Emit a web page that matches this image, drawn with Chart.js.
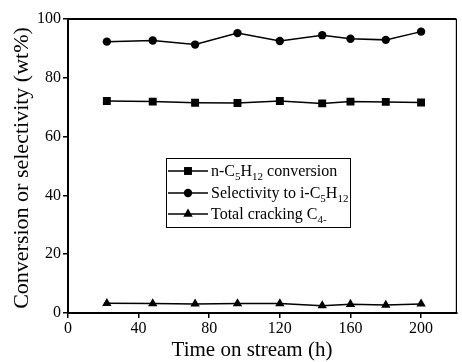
<!DOCTYPE html>
<html>
<head>
<meta charset="utf-8">
<script src="https://cdn.jsdelivr.net/npm/chart.js@4.4.1/dist/chart.umd.min.js"></script>
<style>
  html, body { margin: 0; padding: 0; background: #fff; }
  #wrap { width: 462px; height: 362px; }
</style>
</head>
<body>
<div id="wrap"><canvas id="chart-line" width="462" height="362"></canvas></div>
<script>
// data
var hours = [22, 48, 72, 96, 120, 144, 160, 180, 200];
var conversion = [72.1, 71.9, 71.5, 71.4, 72.1, 71.3, 71.9, 71.8, 71.6];
var selectivity = [92.3, 92.7, 91.3, 95.2, 92.5, 94.5, 93.3, 92.9, 95.7];
var cracking = [3.3, 3.2, 3.1, 3.2, 3.2, 2.5, 3.0, 2.7, 3.1];
var xTicks = [0, 40, 80, 120, 160, 200];
var yTicks = [0, 20, 40, 60, 80, 100];
var xTitle = "Time on stream (h)";
var yTitle = "Conversion or selectivity (wt%)";

var serif = "'Liberation Serif', 'Times New Roman', serif";

function pts(ys) {
  var out = [];
  for (var i = 0; i < hours.length; i++) out.push({ x: hours[i], y: ys[i] });
  return out;
}

function series(label, ys, style, r) {
  return {
    label: label,
    data: pts(ys),
    showLine: true,
    borderColor: "#000",
    backgroundColor: "#000",
    borderWidth: 1.5,
    pointStyle: style,
    pointRadius: r,
    pointBorderWidth: 0,
    pointBackgroundColor: "#000",
  };
}

// legend with sub-scripts, drawn by hand inside the plot
var legendRows = [
  { style: "rect", r: 5.6, parts: [["n-C", 0], ["5", 1], ["H", 0], ["12", 1], [" conversion", 0]] },
  { style: "circle", r: 4.2, parts: [["Selectivity to i-C", 0], ["5", 1], ["H", 0], ["12", 1]] },
  { style: "triangle", r: 5.4, parts: [["Total cracking C", 0], ["4-", 1]] },
];

var framePlugin = {
  id: "frame",
  afterDraw: function (chart) {
    var ctx = chart.ctx;
    var a = chart.chartArea;
    ctx.save();
    ctx.strokeStyle = "#000";
    ctx.lineWidth = 2;
    ctx.beginPath();
    ctx.moveTo(a.left - 1, a.top);
    ctx.lineTo(a.right, a.top);
    ctx.stroke();
    ctx.lineWidth = 1.2;
    ctx.beginPath();
    ctx.moveTo(a.right, a.top);
    ctx.lineTo(a.right, a.bottom);
    ctx.stroke();

    // axis titles
    ctx.fillStyle = "#000";
    ctx.font = "21px " + serif;
    ctx.textAlign = "center";
    ctx.textBaseline = "alphabetic";
    ctx.fillText(xTitle, 252, 356);
    ctx.save();
    ctx.translate(28, 168);
    ctx.rotate(-Math.PI / 2);
    ctx.font = "22px " + serif;
    ctx.fillText(yTitle, 0, 0);
    ctx.restore();
    ctx.textAlign = "left";

    // legend box
    var bx = 166, by = 158, bw = 184, bh = 69;
    ctx.lineWidth = 1;
    ctx.strokeRect(bx + 0.5, by + 0.5, bw, bh);
    var rowsY = [171, 193, 214];
    for (var i = 0; i < legendRows.length; i++) {
      var row = legendRows[i];
      var y = rowsY[i];
      ctx.lineWidth = 1.5;
      ctx.beginPath();
      ctx.moveTo(bx + 2, y);
      ctx.lineTo(bx + 42, y);
      ctx.stroke();
      Chart.helpers.drawPoint(ctx, { pointStyle: row.style, radius: row.r, borderWidth: 0 }, bx + 22, y);
      var tx = bx + 45;
      for (var j = 0; j < row.parts.length; j++) {
        var p = row.parts[j];
        if (p[1]) {
          ctx.font = "11px " + serif;
          ctx.fillText(p[0], tx, y + 9);
        } else {
          ctx.font = "16px " + serif;
          ctx.fillText(p[0], tx, y + 5);
        }
        tx += ctx.measureText(p[0]).width;
      }
    }
    ctx.restore();
  },
};

var ctx = document.getElementById("chart-line").getContext("2d");
new Chart(ctx, {
  type: "scatter",
  data: {
    datasets: [
      series("n-C5H12 conversion", conversion, "rect", 5.6),
      series("Selectivity to i-C5H12", selectivity, "circle", 4.2),
      series("Total cracking C4-", cracking, "triangle", 5.4),
    ],
  },
  options: {
    responsive: false,
    animation: false,
    layout: { padding: { top: 19, right: 2, left: 0, bottom: 0 } },
    plugins: {
      legend: { display: false },
      tooltip: { enabled: false },
    },
    scales: {
      x: {
        type: "linear",
        min: 0,
        max: 220,
        afterBuildTicks: function (s) {
          s.ticks = xTicks.map(function (v) { return { value: v }; });
        },
        afterFit: function (s) { s.height = 49; },
        border: { display: true, color: "#000", width: 2 },
        grid: { drawOnChartArea: false, drawTicks: true, tickLength: 5, color: "#000", lineWidth: 1.5 },
        ticks: { color: "#000", font: { family: serif, size: 16 }, padding: 1, maxRotation: 0 },
      },
      y: {
        min: 0,
        max: 100,
        afterBuildTicks: function (s) {
          s.ticks = yTicks.map(function (v) { return { value: v }; });
        },
        afterFit: function (s) { s.width = 68; },
        border: { display: true, color: "#000", width: 2 },
        grid: { drawOnChartArea: false, drawTicks: true, tickLength: 5, color: "#000", lineWidth: 1.5 },
        ticks: { color: "#000", font: { family: serif, size: 16 }, padding: 2 },
      },
    },
  },
  plugins: [framePlugin],
});
</script>
</body>
</html>
